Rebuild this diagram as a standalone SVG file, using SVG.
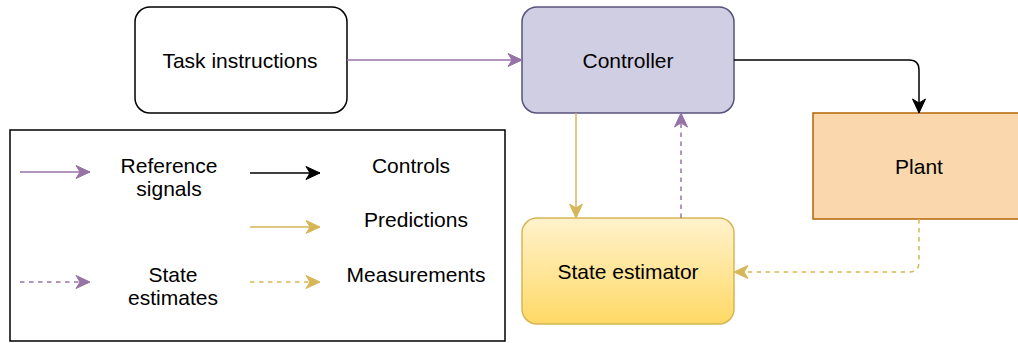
<svg xmlns="http://www.w3.org/2000/svg" width="1018" height="343" viewBox="0 0 1018 343">
<style>
text{font-family:"Liberation Sans",Arial,sans-serif;font-size:21px;fill:#000;text-anchor:middle}
.c{fill:none;stroke-width:1.5}
.pur{stroke:#9673a6}
.blk{stroke:#000}
.yel{stroke:#d6b656}
.dash{stroke-dasharray:4.5 4.5}
</style>
<defs>
<linearGradient id="gy" x1="0" y1="0" x2="0" y2="1">
<stop offset="0" stop-color="#fff2cc"/>
<stop offset="1" stop-color="#ffd966"/>
</linearGradient>
<marker id="aP" markerUnits="userSpaceOnUse" markerWidth="18" markerHeight="16" viewBox="-16 -8 18 16" refX="0" refY="0" orient="auto"><path d="M0,0 L-14,-6.5 L-10,0 L-14,6.5 Z" fill="#9673a6" stroke="#9673a6" stroke-width="1"/></marker>
<marker id="aB" markerUnits="userSpaceOnUse" markerWidth="18" markerHeight="16" viewBox="-16 -8 18 16" refX="0" refY="0" orient="auto"><path d="M0,0 L-14,-6.5 L-10,0 L-14,6.5 Z" fill="#000" stroke="#000" stroke-width="1"/></marker>
<marker id="aY" markerUnits="userSpaceOnUse" markerWidth="18" markerHeight="16" viewBox="-16 -8 18 16" refX="0" refY="0" orient="auto"><path d="M0,0 L-14,-6.5 L-10,0 L-14,6.5 Z" fill="#d6b656" stroke="#d6b656" stroke-width="1"/></marker>
</defs>
<rect width="1018" height="343" fill="#fff"/>
<g id="task">
<rect x="135" y="7" width="212" height="106" rx="15" fill="#fff" stroke="#000" stroke-width="1.5"/>
<text x="240" y="68">Task instructions</text>
</g>
<g id="controller">
<rect x="522" y="7" width="212" height="106" rx="15" fill="#d0cee2" stroke="#56517e" stroke-width="1.5"/>
<text x="628" y="68">Controller</text>
</g>
<g id="plant">
<rect x="813" y="113" width="212" height="106" fill="#fad7ac" stroke="#b46504" stroke-width="1.5"/>
<text x="919" y="174">Plant</text>
</g>
<g id="estimator">
<rect x="522" y="218" width="212" height="106" rx="15" fill="url(#gy)" stroke="#d6b656" stroke-width="1.5"/>
<text x="628" y="279">State estimator</text>
</g>
<g id="connectors">
<path class="c pur" d="M347,60 H522" marker-end="url(#aP)"/>
<path class="c blk" d="M734,60 H909 Q919,60 919,70 V113" marker-end="url(#aB)"/>
<path class="c yel" d="M576,113 V218" marker-end="url(#aY)"/>
<path class="c pur dash" d="M681,218 V113" marker-end="url(#aP)"/>
<path class="c yel dash" d="M919,219 V262 Q919,272 909,272 H734" marker-end="url(#aY)"/>
</g>
<g id="legend">
<rect x="10" y="130" width="495" height="211" fill="#fff" stroke="#000" stroke-width="1.5"/>
<path class="c pur" d="M20,172 H90" marker-end="url(#aP)"/>
<path class="c blk" d="M250,173 H320" marker-end="url(#aB)"/>
<path class="c yel" d="M250,227 H320" marker-end="url(#aY)"/>
<path class="c pur dash" d="M20,282 H90" marker-end="url(#aP)"/>
<path class="c yel dash" d="M250,282 H320" marker-end="url(#aY)"/>
<text x="169" y="173">Reference</text>
<text x="169" y="196">signals</text>
<text x="411" y="173">Controls</text>
<text x="416" y="227">Predictions</text>
<text x="173" y="282">State</text>
<text x="173" y="305">estimates</text>
<text x="416" y="282">Measurements</text>
</g>
</svg>
